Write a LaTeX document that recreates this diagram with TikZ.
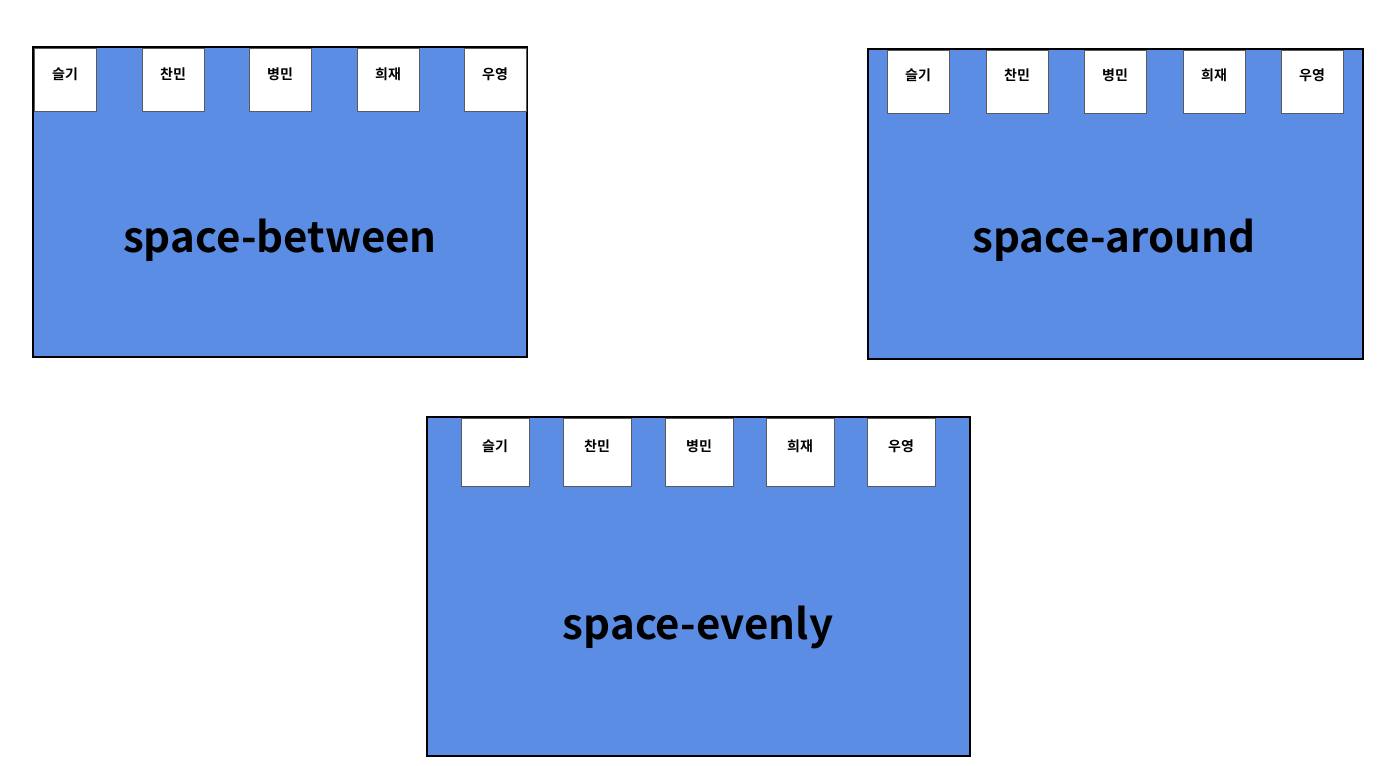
\documentclass[tikz,border=0pt]{standalone}
\usepackage{fontspec}
\setmainfont{Noto Sans CJK KR}[BoldFont={Noto Sans CJK KR Bold}]
\definecolor{flexblue}{RGB}{91,141,229}
\definecolor{itemborder}{RGB}{90,90,90}
\tikzset{
  container/.style={draw=black, line width=1.6pt, fill=flexblue},
  item/.style={draw=itemborder, line width=0.8pt, fill=white},
  itemlabel/.style={font=\bfseries\fontsize{14}{16}\selectfont, inner sep=0pt},
  biglabel/.style={font=\bfseries\fontsize{42}{48}\selectfont, inner sep=0pt}
}
\begin{document}
\begin{tikzpicture}[x=1pt,y=-1pt]
\useasboundingbox (0,0) rectangle (1396,765);
% containers
\draw[container] (33,47) rectangle (527,357);
\draw[container] (868,49) rectangle (1363,359);
\draw[container] (427,417) rectangle (970,756);
% box 1 items
\foreach \x/\t [count=\i] in {34/슬기,142/찬민,249/병민,357/희재,464/우영}{
  \draw[item] (\x,48) rectangle ++(62,63);
  \node[itemlabel] (a\i) at (\x+31,74) {\t};
}
% box 2 items
\foreach \x/\t [count=\i] in {887/슬기,986/찬민,1084/병민,1183/희재,1281/우영}{
  \draw[item] (\x,50) rectangle ++(62,63);
  \node[itemlabel] (b\i) at (\x+31,75) {\t};
}
% box 3 items
\foreach \x/\t [count=\i] in {461/슬기,563/찬민,665/병민,766/희재,867/우영}{
  \draw[item] (\x,418) rectangle ++(68,68);
  \node[itemlabel] (c\i) at (\x+34,446) {\t};
}
\node[biglabel] (t1) at (280,240) {space-between};
\node[biglabel] (t2) at (1114,240) {space-around};
\node[biglabel] (t3) at (698,627) {space-evenly};
\end{tikzpicture}
\end{document}
